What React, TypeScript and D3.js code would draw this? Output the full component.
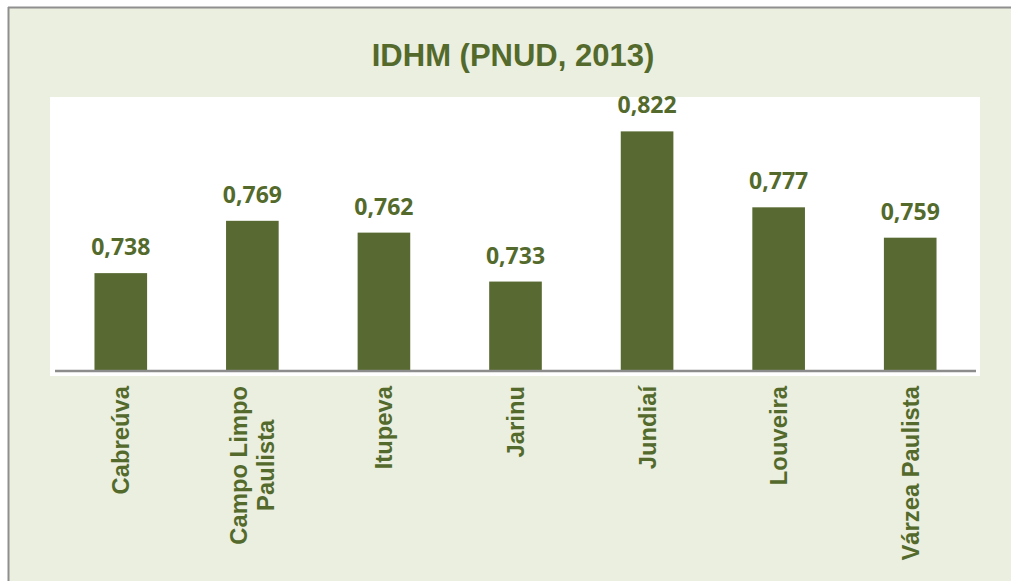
import React from "react";
import * as d3 from "d3";

const categories: string[][] = [
  ["Cabreúva"],
  ["Campo Limpo", "Paulista"],
  ["Itupeva"],
  ["Jarinu"],
  ["Jundiaí"],
  ["Louveira"],
  ["Várzea Paulista"],
];
const values: number[] = [0.738, 0.769, 0.762, 0.733, 0.822, 0.777, 0.759];
const yDomain: [number, number] = [0.68, 0.84];
const title = "IDHM (PNUD, 2013)";

const BG = "#ebefdf";
const GREEN = "#586a31";
const TEXT = "#536a2c";
const CAT_FONT = "bold 23.8px 'Liberation Sans', Arial, sans-serif";

function measure(text: string, font: string): number {
  if (typeof document === "undefined") return text.length * 12;
  const c = document.createElement("canvas");
  const ctx = c.getContext("2d");
  if (!ctx) return text.length * 12;
  ctx.font = font;
  return ctx.measureText(text).width;
}

export default function App() {
  const W = 1011;
  const H = 581;
  const plot = { x0: 50, x1: 980, y0: 97, y1: 376 };
  const axisX0 = 55;
  const axisX1 = 976;
  const axisY = 371;

  const x = d3
    .scaleBand<number>()
    .domain(values.map((_, i) => i))
    .range([axisX0, axisX1])
    .paddingInner(0.6)
    .paddingOuter(0.3);
  const y = d3.scaleLinear().domain(yDomain).range([axisY, 101]);
  const fmt = (v: number) => d3.format(".3f")(v).replace(".", ",");

  return (
    <svg
      width={W}
      height={H}
      style={{ position: "absolute", left: 0, top: 0 }}
    >
      <rect x={0} y={0} width={W} height={H} fill="#ffffff" />
      <rect x={8} y={7} width={W - 8} height={H - 7} fill={BG} />
      <line x1={8} y1={7.5} x2={W} y2={7.5} stroke="#8f8f8f" strokeWidth={2} />
      <line x1={8.5} y1={7} x2={8.5} y2={H} stroke="#8f8f8f" strokeWidth={2} />
      <text
        x={513}
        y={66}
        textAnchor="middle"
        fill={TEXT}
        style={{ font: "bold 31px 'Liberation Sans', Arial, sans-serif" }}
      >
        {title}
      </text>
      <rect
        x={plot.x0}
        y={plot.y0}
        width={plot.x1 - plot.x0}
        height={plot.y1 - plot.y0}
        fill="#ffffff"
      />
      {values.map((v, i) => (
        <rect
          key={"b" + i}
          x={x(i)!}
          y={y(v)}
          width={x.bandwidth()}
          height={axisY - y(v)}
          fill={GREEN}
        />
      ))}
      <line
        x1={axisX0}
        x2={axisX1}
        y1={axisY}
        y2={axisY}
        stroke="#8c8c8c"
        strokeWidth={2.5}
      />
      {values.map((v, i) => (
        <text
          key={"v" + i}
          x={x(i)! + x.bandwidth() / 2}
          y={y(v) - 18}
          textAnchor="middle"
          fill={TEXT}
          style={{ font: "bold 23px 'Open Sans', sans-serif" }}
        >
          {fmt(v)}
        </text>
      ))}
      {categories.map((lines, i) => {
        const cx = x(i)! + x.bandwidth() / 2;
        const maxLen = Math.max(...lines.map((l) => measure(l, CAT_FONT)));
        const top = 386;
        const mid = top + maxLen / 2;
        const lh = 27;
        const n = lines.length;
        return (
          <g key={"c" + i} transform={`translate(${cx},${mid}) rotate(-90)`}>
            {lines.map((l, j) => (
              <text
                key={j}
                x={0}
                y={(j - (n - 1) / 2) * lh + 8.5}
                textAnchor="middle"
                fill={TEXT}
                style={{ font: CAT_FONT }}
              >
                {l}
              </text>
            ))}
          </g>
        );
      })}
    </svg>
  );
}
